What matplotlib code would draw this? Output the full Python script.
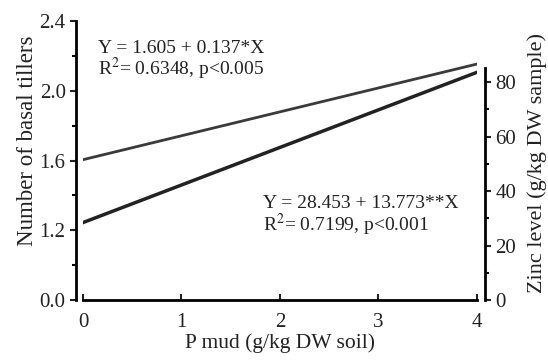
import matplotlib.pyplot as plt
from matplotlib.ticker import FixedLocator

plt.rcParams['font.family'] = ['Liberation Serif', 'DejaVu Serif']
plt.rcParams['mathtext.fontset'] = 'stix'

# fitted lines, end points
p_mud = [0, 4]
tillers = [1.605, 2.153]
zinc = [28.45, 83.55]

left_ticks = [0.8, 1.2, 1.6, 2.0, 2.4]
left_labels = ['0.0', '1.2', '1.6', '2.0', '2.4']
right_ticks = [0, 20, 40, 60, 80]
x_ticks = [0, 1, 2, 3, 4]

tillers_text = 'Y = 1.605 + 0.137*X\nR$^2$= 0.6348, p<0.005'
zinc_text = 'Y = 28.453 + 13.773**X\nR$^2$= 0.7199, p<0.001'

fig = plt.figure(figsize=(5.48, 3.62), dpi=100)
ax = fig.add_axes([0.1515, 0.171, 0.7185, 0.771])
ax2 = ax.twinx()

ax.plot(p_mud, tillers, color='#3a3a3a', lw=2)
ax2.plot(p_mud, zinc, color='#222222', lw=2.5)

ax.set_xlim(0, 4)
ax.set_ylim(0.8, 2.4)
ax2.set_ylim(0, 102.4)

ax.set_xticks(x_ticks)
ax.set_yticks(left_ticks)
ax.set_yticklabels(left_labels)
ax.yaxis.set_minor_locator(FixedLocator([1.0, 1.4, 1.8, 2.2]))
ax2.set_yticks(right_ticks)
ax2.yaxis.set_minor_locator(FixedLocator([10, 30, 50, 70]))

for a in (ax, ax2):
    for s in a.spines.values():
        s.set_linewidth(2)
    a.spines['top'].set_visible(False)
    a.tick_params(labelsize=15, width=1.5, length=4, colors='#222222')
    a.tick_params(which='minor', width=1.5, length=3)

ax.spines['right'].set_visible(False)
ax.spines['left'].set_position(('outward', 5))
ax2.spines['left'].set_visible(False)
ax2.spines['bottom'].set_visible(False)
ax2.spines['right'].set_position(('outward', 6))
ax2.spines['right'].set_bounds(0, 85)
ax.tick_params(axis='x', direction='in', pad=9)

ax.set_xlabel('P mud (g/kg DW soil)', fontsize=15.5, labelpad=1, color='#222222')
ax.set_ylabel('Number of basal tillers', fontsize=16.5, labelpad=1, color='#222222', y=0.57)
ax2.set_ylabel('Zinc level (g/kg DW sample)', fontsize=16, labelpad=8, color='#222222', y=0.49)

ax.text(0.15, 2.29, tillers_text, fontsize=14, va='top', linespacing=0.95, color='#222222')
ax.text(1.83, 1.4, zinc_text, fontsize=14, va='top', linespacing=0.95, color='#222222')

fig.savefig('out.png', dpi=100)
